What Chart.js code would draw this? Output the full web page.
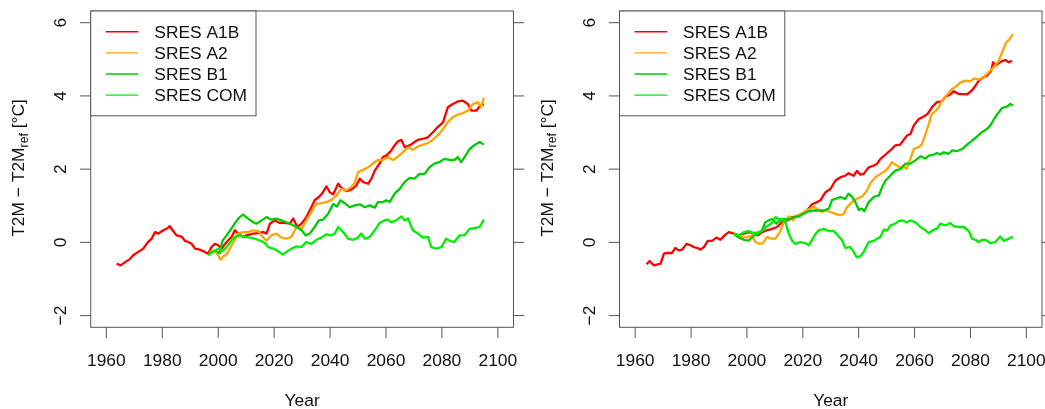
<!DOCTYPE html>
<html>
<head>
<meta charset="utf-8">
<script src="https://cdn.jsdelivr.net/npm/chart.js@4.4.1/dist/chart.umd.min.js"></script>
<style>
  html, body { margin: 0; padding: 0; background: #fff; overflow: hidden; }
  canvas { position: absolute; top: 0; }
  #leftChart { left: 0; }
  #rightChart { left: 527px; }
</style>
</head>
<body>
<canvas id="leftChart" width="527" height="409" style="width:527px;height:409px"></canvas>
<canvas id="rightChart" width="518" height="409" style="width:518px;height:409px"></canvas>
<script>
// axis ticks
const xTicks = [1960, 1980, 2000, 2020, 2040, 2060, 2080, 2100];
const yTicks = [-2, 0, 2, 4, 6];
const seriesNames = ['SRES A1B', 'SRES A2', 'SRES B1', 'SRES COM'];
const seriesColors = ['#ff0000', '#ffa500', '#00cd00', '#00ee00'];

// ---- left panel ----
const leftA1bYears = [1963.7,1965.1,1966.7,1968.5,1969.6,1971.4,1973.2,1974.8,1976.2,1977.4,1978.6,1980.4,1981.5,1982.7,1983.9,1985.1,1986.9,1988.1,1989.3,1990.5,1991.7,1993.5,1995.2,1996.4,1997.6,1998.8,2000.0,2001.2,2003.0,2004.8,2006.0,2007.1,2008.9,2010.1,2012.5,2014.3,2016.1,2017.3,2018.5,2020.2,2022.0,2023.8,2025.6,2026.8,2028.3,2029.8,2031.5,2033.3,2034.5,2036.0,2037.3,2038.7,2039.9,2041.1,2042.9,2044.0,2045.8,2047.6,2049.4,2050.6,2051.8,2053.6,2054.8,2056.0,2057.7,2058.9,2060.1,2061.9,2063.1,2064.3,2065.5,2066.7,2068.5,2070.2,2071.4,2073.2,2075.0,2076.7,2078.5,2080.4,2082.1,2083.9,2085.7,2087.5,2089.3,2090.5,2092.3,2093.5,2095.0];
const leftA1bVals = [-0.58,-0.63,-0.54,-0.45,-0.35,-0.26,-0.17,0.0,0.1,0.28,0.24,0.33,0.37,0.44,0.31,0.19,0.16,0.04,0.01,-0.04,-0.17,-0.2,-0.26,-0.31,-0.13,-0.04,-0.08,-0.17,0.01,0.15,0.33,0.24,0.15,0.19,0.24,0.25,0.28,0.24,0.51,0.6,0.53,0.53,0.51,0.65,0.42,0.51,0.69,0.96,1.15,1.24,1.35,1.53,1.37,1.31,1.6,1.49,1.4,1.44,1.55,1.74,1.65,1.6,1.74,1.96,2.15,2.33,2.37,2.51,2.65,2.76,2.8,2.6,2.65,2.74,2.8,2.83,2.87,3.0,3.15,3.28,3.69,3.78,3.85,3.87,3.78,3.6,3.6,3.71,3.78];

const leftA2Years = [1996.8,1998.8,2000.0,2000.8,2002.0,2003.2,2004.8,2006.0,2007.1,2008.9,2010.7,2012.5,2014.3,2016.1,2017.3,2019.0,2020.8,2022.6,2024.4,2026.2,2028.0,2029.8,2031.5,2033.3,2035.1,2036.9,2038.7,2040.5,2042.3,2044.0,2045.8,2047.6,2048.8,2050.0,2051.8,2053.6,2055.4,2057.1,2058.9,2060.7,2062.5,2064.3,2066.0,2067.9,2069.6,2071.4,2073.2,2075.0,2076.7,2078.5,2080.4,2082.1,2083.9,2085.7,2087.5,2089.3,2091.1,2092.9,2094.0,2095.0];
const leftA2Vals = [-0.26,-0.24,-0.35,-0.47,-0.38,-0.31,-0.08,0.07,0.24,0.28,0.28,0.33,0.31,0.13,0.05,0.19,0.24,0.13,0.1,0.15,0.42,0.37,0.6,0.83,1.05,1.07,1.1,1.16,1.28,1.46,1.42,1.51,1.62,1.92,1.98,2.05,2.16,2.25,2.25,2.33,2.25,2.35,2.46,2.6,2.53,2.62,2.67,2.71,2.8,2.92,3.1,3.28,3.42,3.49,3.53,3.6,3.78,3.83,3.69,3.95];

const leftB1Years = [1996.8,1998.8,2000.6,2001.5,2003.0,2004.8,2006.5,2007.7,2008.9,2010.7,2012.5,2013.7,2015.5,2017.3,2019.0,2020.8,2022.6,2024.4,2026.2,2028.0,2029.8,2031.3,2032.7,2034.5,2036.0,2037.5,2039.3,2041.1,2042.5,2043.7,2045.2,2047.0,2048.8,2050.6,2052.4,2054.2,2056.0,2057.1,2058.9,2060.1,2061.3,2063.1,2064.9,2066.7,2068.5,2070.2,2072.0,2073.8,2075.5,2077.3,2079.1,2080.8,2082.6,2084.4,2085.7,2086.9,2088.1,2089.9,2091.7,2093.5,2095.0];
const leftB1Vals = [-0.31,-0.22,-0.29,0.04,0.19,0.39,0.58,0.69,0.76,0.65,0.55,0.51,0.6,0.69,0.62,0.65,0.6,0.55,0.49,0.42,0.33,0.19,0.24,0.42,0.6,0.62,0.78,1.05,0.98,1.15,1.07,0.96,1.01,1.04,0.96,1.01,0.95,1.1,1.1,1.15,1.1,1.33,1.46,1.65,1.76,1.74,1.87,1.87,2.05,2.15,2.19,2.28,2.25,2.25,2.33,2.19,2.33,2.55,2.66,2.74,2.67];

const leftComYears = [1996.4,1998.2,2000.0,2001.5,2003.0,2004.8,2006.0,2007.7,2009.5,2011.3,2013.1,2014.9,2016.7,2017.9,2019.6,2021.4,2023.0,2024.4,2026.2,2028.0,2029.8,2031.5,2033.3,2035.1,2036.9,2038.7,2040.5,2041.7,2042.9,2044.0,2045.2,2046.4,2048.2,2050.0,2051.2,2052.4,2054.2,2056.0,2057.7,2059.5,2060.7,2061.9,2063.6,2065.5,2066.7,2067.9,2069.6,2071.4,2073.2,2075.0,2076.2,2078.0,2079.8,2081.5,2082.7,2084.4,2086.3,2088.1,2089.9,2091.7,2093.5,2095.0];
const leftComVals = [-0.35,-0.26,-0.17,-0.24,-0.13,0.05,0.15,0.19,0.16,0.13,0.1,0.05,-0.02,-0.13,-0.17,-0.24,-0.33,-0.26,-0.17,-0.11,-0.13,0.01,-0.04,0.07,0.13,0.22,0.19,0.24,0.42,0.33,0.24,0.1,0.07,0.13,0.24,0.1,0.15,0.33,0.53,0.6,0.62,0.55,0.6,0.71,0.6,0.65,0.33,0.24,0.13,0.15,-0.13,-0.17,-0.13,0.1,0.05,0.01,0.19,0.19,0.37,0.39,0.42,0.62];

// ---- right panel ----
const rightA1bYears = [1964.1,1965.2,1966.7,1968.1,1969.1,1970.3,1971.4,1973.2,1974.4,1975.6,1976.8,1978.4,1979.8,1981.0,1982.2,1983.4,1984.6,1986.0,1987.5,1989.1,1990.5,1992.0,1993.5,1995.3,1997.1,1998.9,2000.7,2002.5,2003.9,2005.4,2007.2,2009.0,2010.8,2012.6,2014.4,2016.2,2018.0,2019.7,2021.5,2023.3,2025.1,2026.3,2028.1,2029.9,2031.7,2033.5,2035.2,2036.4,2038.2,2039.4,2040.6,2041.8,2043.6,2045.4,2046.6,2047.8,2049.6,2051.3,2053.1,2054.9,2056.1,2057.3,2058.5,2059.7,2061.5,2063.3,2064.7,2066.2,2068.0,2069.8,2071.0,2072.8,2074.0,2075.8,2077.6,2078.8,2080.6,2081.8,2083.0,2084.7,2085.9,2087.4,2088.1,2088.9,2090.1,2091.3,2092.5,2093.7,2094.9];
const rightA1bVals = [-0.6,-0.51,-0.63,-0.6,-0.58,-0.31,-0.29,-0.29,-0.15,-0.22,-0.2,-0.04,-0.08,-0.13,-0.15,-0.2,-0.13,0.04,0.04,0.13,0.07,0.19,0.28,0.24,0.19,0.24,0.28,0.25,0.19,0.28,0.33,0.37,0.42,0.55,0.6,0.69,0.71,0.78,0.87,1.04,1.1,1.15,1.37,1.46,1.69,1.78,1.82,1.89,1.82,1.95,1.85,1.87,2.05,2.1,2.15,2.28,2.4,2.51,2.65,2.67,2.8,2.92,2.96,3.19,3.37,3.44,3.51,3.69,3.83,3.85,3.98,4.04,4.13,4.05,4.05,4.04,4.16,4.28,4.42,4.51,4.55,4.69,4.92,4.83,4.89,4.95,4.98,4.92,4.96];

const rightA2Years = [1995.3,1997.1,1998.9,2000.7,2001.9,2003.0,2004.6,2005.8,2007.2,2008.7,2010.2,2011.8,2013.2,2015.0,2016.5,2018.0,2019.7,2021.5,2022.7,2023.9,2025.5,2026.9,2028.1,2029.9,2031.7,2033.5,2034.7,2035.8,2037.6,2039.4,2041.2,2043.0,2044.2,2046.0,2047.8,2049.6,2050.7,2051.9,2053.5,2054.9,2056.1,2057.1,2058.3,2059.7,2061.5,2062.7,2063.9,2065.1,2066.2,2067.4,2068.6,2069.8,2071.6,2073.4,2075.2,2076.4,2078.2,2080.0,2081.2,2083.0,2084.7,2086.5,2088.3,2090.1,2091.6,2092.8,2094.0,2095.2];
const rightA2Vals = [0.24,0.19,0.13,0.15,0.19,0.01,-0.04,-0.02,0.15,0.1,0.1,0.28,0.55,0.71,0.6,0.74,0.78,0.89,0.92,0.98,0.89,0.83,0.87,0.83,0.78,0.74,0.78,0.96,1.1,1.19,1.25,1.42,1.62,1.78,1.87,1.96,2.05,2.19,2.1,2.05,2.07,2.01,2.24,2.55,2.6,2.69,2.96,3.24,3.51,3.58,3.69,3.87,4.03,4.19,4.28,4.37,4.42,4.4,4.47,4.45,4.51,4.65,4.78,4.96,5.24,5.46,5.55,5.69];

const rightB1Years = [1995.3,1997.1,1998.9,2000.7,2002.5,2004.2,2005.4,2006.6,2007.8,2009.0,2010.6,2011.9,2013.2,2015.0,2016.8,2018.6,2020.3,2022.1,2023.9,2025.7,2027.5,2029.3,2030.5,2031.7,2033.5,2035.2,2036.4,2037.6,2038.8,2040.0,2041.2,2042.0,2043.6,2045.4,2047.2,2048.4,2049.6,2051.3,2053.1,2054.9,2056.7,2058.5,2060.3,2062.1,2063.9,2065.1,2066.9,2068.0,2069.2,2070.4,2072.2,2073.4,2075.2,2077.0,2078.8,2080.6,2082.3,2084.1,2085.9,2087.1,2088.3,2089.7,2091.3,2093.1,2094.3,2095.2];
const rightB1Vals = [0.24,0.13,0.07,0.05,0.19,0.24,0.33,0.55,0.6,0.64,0.51,0.6,0.64,0.62,0.69,0.71,0.78,0.85,0.87,0.87,0.87,0.92,1.16,1.19,1.24,1.19,1.33,1.25,1.1,0.89,0.92,0.85,1.1,1.24,1.28,1.51,1.69,1.82,1.96,2.0,2.15,2.15,2.24,2.35,2.29,2.37,2.4,2.44,2.4,2.46,2.42,2.51,2.49,2.55,2.67,2.78,2.89,3.01,3.1,3.19,3.35,3.51,3.67,3.71,3.78,3.74];

const rightComYears = [1995.3,1997.1,1998.9,2000.7,2002.5,2004.2,2005.8,2007.2,2009.0,2010.2,2011.4,2012.6,2013.8,2015.0,2016.2,2017.4,2019.1,2020.9,2022.1,2023.3,2024.5,2025.7,2027.5,2029.3,2031.1,2032.9,2034.1,2035.2,2037.0,2038.2,2039.2,2040.6,2041.8,2043.6,2045.4,2046.6,2047.8,2049.0,2050.2,2051.3,2053.1,2054.3,2055.5,2057.3,2058.5,2060.3,2062.1,2063.9,2065.1,2066.9,2068.0,2069.2,2071.0,2072.8,2074.0,2075.8,2077.6,2079.4,2080.6,2081.8,2083.0,2084.2,2085.4,2087.1,2088.9,2090.7,2091.9,2093.7,2095.2];
const rightComVals = [0.24,0.19,0.28,0.31,0.25,0.28,0.33,0.44,0.53,0.69,0.64,0.64,0.53,0.24,0.04,-0.04,0.01,-0.02,-0.08,0.07,0.22,0.33,0.37,0.31,0.31,0.16,0.05,-0.15,-0.13,-0.26,-0.4,-0.38,-0.26,0.01,0.04,0.1,0.15,0.35,0.33,0.46,0.51,0.58,0.6,0.55,0.6,0.55,0.42,0.33,0.25,0.35,0.37,0.51,0.46,0.53,0.44,0.42,0.42,0.31,0.1,0.07,0.01,0.07,0.07,-0.02,0.01,0.16,0.04,0.1,0.15];

const FONT = '"Liberation Sans", Arial, Helvetica, sans-serif';
const AXIS_COLOR = '#555';

const toPoints = (xs, ys) => xs.slice(0, Math.min(xs.length, ys.length)).map((x, i) => ({ x, y: ys[i] }));

// R style box, ticks, labels and legend
const rFrame = {
  id: 'rFrame',
  afterDatasetsDraw(chart) {
    const { ctx, chartArea: a, scales: { x, y } } = chart;
    const seg = (x1, y1, x2, y2) => { ctx.beginPath(); ctx.moveTo(x1, y1); ctx.lineTo(x2, y2); ctx.stroke(); };
    ctx.save();
    ctx.strokeStyle = AXIS_COLOR;
    ctx.lineWidth = 1;
    ctx.strokeRect(a.left, a.top, a.right - a.left, a.bottom - a.top);

    ctx.fillStyle = '#111';
    ctx.font = `17.4px ${FONT}`;
    ctx.textAlign = 'center';
    ctx.textBaseline = 'alphabetic';

    xTicks.forEach(v => {
      const px = x.getPixelForValue(v);
      seg(px, a.bottom, px, a.bottom + 10.7);
      ctx.fillText(String(v), px, 365.7);
    });
    ctx.fillText('Year', (a.left + a.right) / 2, 406);

    yTicks.forEach(v => {
      const py = y.getPixelForValue(v);
      seg(a.left - 10.7, py, a.left, py);
      seg(a.right, py, a.right + 10.7, py);
      ctx.save();
      ctx.translate(a.left - 24.5, py);
      ctx.rotate(-Math.PI / 2);
      ctx.fillText(v < 0 ? '\u2212' + Math.abs(v) : String(v), 0, 0);
      ctx.restore();
    });

    // y title with subscript
    const parts = [
      ['T2M \u2212 T2M', `17.4px ${FONT}`, 0],
      ['ref', `12.2px ${FONT}`, 3.5],
      [' [\u00B0C]', `17.4px ${FONT}`, 0]
    ];
    let total = 0;
    parts.forEach(p => { ctx.font = p[1]; total += ctx.measureText(p[0]).width; });
    ctx.save();
    ctx.translate(a.left - 66.7, 168);
    ctx.rotate(-Math.PI / 2);
    ctx.textAlign = 'left';
    let cx = -total / 2;
    parts.forEach(p => {
      ctx.font = p[1];
      ctx.fillText(p[0], cx, p[2]);
      cx += ctx.measureText(p[0]).width;
    });
    ctx.restore();

    // legend
    const lx = a.left, ly = a.top, lw = 165.3, lh = 104.8;
    ctx.fillStyle = '#fff';
    ctx.fillRect(lx, ly, lw, lh);
    ctx.strokeStyle = AXIS_COLOR;
    ctx.strokeRect(lx, ly, lw, lh);
    ctx.font = `17.4px ${FONT}`;
    ctx.textAlign = 'left';
    seriesNames.forEach((name, i) => {
      const ry = ly + 20.8 + i * 21.1;
      ctx.strokeStyle = seriesColors[i];
      ctx.lineWidth = 1.4;
      seg(lx + 15, ry, lx + 47.6, ry);
      ctx.fillStyle = '#111';
      ctx.fillText(name, lx + 63.6, ry + 6.3);
    });
    ctx.restore();
  }
};

function makePanel(canvasId, sets, padding) {
  const datasets = sets.map((s, i) => ({
    label: seriesNames[i],
    data: toPoints(s[0], s[1]),
    borderColor: seriesColors[i],
    borderWidth: 2.3,
    borderJoinStyle: 'round',
    pointRadius: 0,
    tension: 0,
    fill: false
  })).reverse(); // A1B drawn on top
  return new Chart(document.getElementById(canvasId), {
    type: 'line',
    data: { datasets },
    options: {
      responsive: false,
      animation: false,
      layout: { padding },
      plugins: { legend: { display: false }, tooltip: { enabled: false } },
      scales: {
        x: { type: 'linear', min: 1954.4, max: 2105.6, display: false },
        y: { type: 'linear', min: -2.32, max: 6.32, display: false }
      }
    },
    plugins: [rFrame]
  });
}

makePanel('leftChart', [
  [leftA1bYears, leftA1bVals],
  [leftA2Years, leftA2Vals],
  [leftB1Years, leftB1Vals],
  [leftComYears, leftComVals]
], { left: 90.7, right: 13.5, top: 11, bottom: 81.7 });

makePanel('rightChart', [
  [rightA1bYears, rightA1bVals],
  [rightA2Years, rightA2Vals],
  [rightB1Years, rightB1Vals],
  [rightComYears, rightComVals]
], { left: 92.5, right: 3, top: 11, bottom: 81.7 });
</script>
</body>
</html>
